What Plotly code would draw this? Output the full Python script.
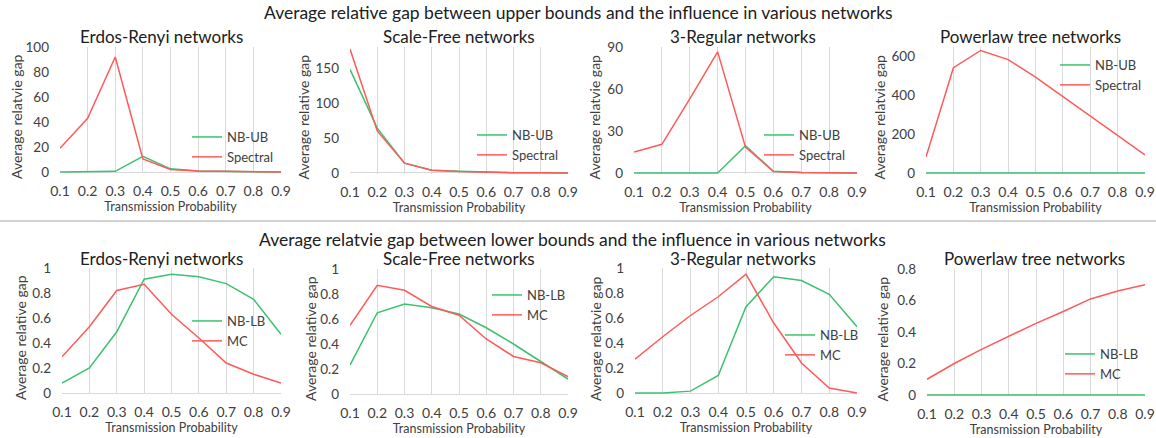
import plotly.graph_objects as go

W, H = 1156, 438
FONT = "Lato"
GREEN = "#3cc26f"
RED = "#ff5a5a"
GRID = "#d9d9d9"

x_vals = [0.1, 0.2, 0.3, 0.4, 0.5, 0.6, 0.7, 0.8, 0.9]
x_ticks = ["0.1", "0.2", "0.3", "0.4", "0.5", "0.6", "0.7", "0.8", "0.9"]

# Upper bounds (top row)
er_nbub = [0, 0, 0.5, 12.5, 2.5, 0.8, 0.5, 0.4, 0]
er_spectral = [19, 43, 92, 10.5, 2, 0.8, 0.5, 0.4, 0]
sf_nbub = [148, 64, 14, 4, 2.5, 1, 0.4, 0.2, 0]
sf_spectral = [177, 60, 14, 4, 2, 1, 0.3, 0.2, 0]
rg_nbub = [0, 0, 0, 0, 19.5, 1.2, 0.3, 0.1, 0]
rg_spectral = [15, 20.5, 53, 86.5, 18.5, 1, 0.3, 0, 0]
pl_nbub = [0, 0, 0, 0, 0, 0, 0, 0, 0]
pl_spectral = [82, 543, 632, 585, 495, 395, 293, 195, 93]

# Lower bounds (bottom row)
er_nblb = [0.08, 0.2, 0.49, 0.91, 0.95, 0.93, 0.875, 0.75, 0.47]
er_mc = [0.29, 0.53, 0.82, 0.87, 0.63, 0.44, 0.24, 0.15, 0.08]
sf_nblb = [0.23, 0.65, 0.72, 0.69, 0.64, 0.53, 0.4, 0.26, 0.12]
sf_mc = [0.55, 0.87, 0.83, 0.7, 0.63, 0.44, 0.3, 0.25, 0.14]
rg_nblb = [0, 0, 0.015, 0.14, 0.69, 0.93, 0.9, 0.79, 0.53]
rg_mc = [0.27, 0.45, 0.62, 0.77, 0.95, 0.56, 0.24, 0.04, 0]
pl_nblb = [0, 0, 0, 0, 0, 0, 0, 0, 0]
pl_mc = [0.1, 0.2, 0.29, 0.375, 0.455, 0.53, 0.61, 0.66, 0.7]

main_titles = [
    "Average relative gap between upper bounds and the influence in various networks",
    "Average relatvie gap between lower bounds and the influence in various networks",
]
panel_titles = ["Erdos-Renyi networks", "Scale-Free networks", "3-Regular networks", "Powerlaw tree networks"] * 2
y_titles = ["Average relatvie gap", "Average relative gap", "Average relatvie gap", "Average relatvie gap",
            "Average relative gap", "Average relative gap", "Average relatvie gap", "Average relative gap"]
x_title = "Transmission Probability"

panels = [
    dict(series=[("NB-UB", er_nbub, GREEN), ("Spectral", er_spectral, RED)], ymax=100, dtick=20,
         px=(60, 281), py=(47, 173), tx=161, ty=36, yt=17, leg=(227, 135)),
    dict(series=[("NB-UB", sf_nbub, GREEN), ("Spectral", sf_spectral, RED)], ymax=180, dtick=50,
         px=(350, 568), py=(47, 174), tx=459, ty=36, yt=303, leg=(512, 133)),
    dict(series=[("NB-UB", rg_nbub, GREEN), ("Spectral", rg_spectral, RED)], ymax=90, dtick=30,
         px=(634, 857), py=(47, 174), tx=743, ty=36, yt=594, leg=(799, 133)),
    dict(series=[("NB-UB", pl_nbub, GREEN), ("Spectral", pl_spectral, RED)], ymax=650, dtick=200,
         px=(926, 1145), py=(47, 174), tx=1030, ty=36, yt=879, leg=(1095, 63)),
    dict(series=[("NB-LB", er_nblb, GREEN), ("MC", er_mc, RED)], ymax=1, dtick=0.2,
         px=(62, 281), py=(268, 394), tx=161, ty=258, yt=20, leg=(227, 319)),
    dict(series=[("NB-LB", sf_nblb, GREEN), ("MC", sf_mc, RED)], ymax=1, dtick=0.2,
         px=(350, 568), py=(269, 395), tx=459, ty=258, yt=310, leg=(527, 293)),
    dict(series=[("NB-LB", rg_nblb, GREEN), ("MC", rg_mc, RED)], ymax=1, dtick=0.2,
         px=(635, 857), py=(268, 394), tx=743, ty=258, yt=595, leg=(820, 333)),
    dict(series=[("NB-LB", pl_nblb, GREEN), ("MC", pl_mc, RED)], ymax=0.8, dtick=0.2,
         px=(927, 1145), py=(269, 396), tx=1034, ty=258, yt=882, leg=(1100, 352)),
]

fig = go.Figure()
annotations = []
layout_extra = {}

for i, p in enumerate(panels):
    k = i + 1
    xa = "x" if k == 1 else f"x{k}"
    ya = "y" if k == 1 else f"y{k}"
    lg = "legend" if k == 1 else f"legend{k}"
    for name, vals, col in p["series"]:
        fig.add_trace(go.Scatter(x=x_vals, y=vals, name=name, mode="lines",
                                 line=dict(color=col, width=1.5), xaxis=xa, yaxis=ya,
                                 legend=lg, hoverinfo="x+y+name"))
    x0, x1 = p["px"]
    y0, y1 = p["py"]
    layout_extra["xaxis" if k == 1 else f"xaxis{k}"] = dict(
        domain=[x0 / W, x1 / W], anchor=ya, range=[0.1, 0.9], automargin=False,
        tickvals=x_vals, ticktext=x_ticks, showgrid=True, gridcolor=GRID, gridwidth=1,
        showline=False, zeroline=False, ticks="", ticklabelstandoff=8,
        tickfont=dict(family=FONT, size=14, color="#404040"),
        title=dict(text=x_title, font=dict(family=FONT, size=12.5, color="#404040"), standoff=4),
        fixedrange=True,
    )
    ymax = p["ymax"]
    layout_extra["yaxis" if k == 1 else f"yaxis{k}"] = dict(
        domain=[1 - y1 / H, 1 - y0 / H], anchor=xa, range=[-0.008 * ymax, ymax], automargin=False,
        tick0=0, dtick=p["dtick"], showgrid=False, showline=False,
        zeroline=True, zerolinecolor=GRID, zerolinewidth=1, ticks="", ticklabelstandoff=10,
        tickfont=dict(family=FONT, size=13.5, color="#404040"), fixedrange=True,
    )
    lx, ly = p["leg"]
    layout_extra[lg] = dict(x=(lx - 40) / W, y=1 - (ly - 13) / H, xanchor="left", yanchor="top",
                            bgcolor="rgba(0,0,0,0)", borderwidth=0, itemwidth=30,
                            font=dict(family=FONT, size=13, color="#404040"),
                            tracegroupgap=0, traceorder="normal")
    annotations.append(dict(text=panel_titles[i], x=p["tx"] / W, y=1 - p["ty"] / H, xref="paper", yref="paper",
                            showarrow=False, xanchor="center", yanchor="middle",
                            font=dict(family=FONT, size=17, color="#202020")))
    annotations.append(dict(text=y_titles[i], x=p["yt"] / W, y=1 - ((y0 + y1) / 2 + 7) / H, xref="paper", yref="paper",
                            showarrow=False, xanchor="center", yanchor="middle", textangle=-90,
                            font=dict(family=FONT, size=14, color="#404040")))

annotations.append(dict(text=main_titles[0], x=578 / W, y=1 - 12 / H, xref="paper", yref="paper",
                        showarrow=False, xanchor="center", yanchor="middle",
                        font=dict(family=FONT, size=17.5, color="#202020")))
annotations.append(dict(text=main_titles[1], x=572 / W, y=1 - 239 / H, xref="paper", yref="paper",
                        showarrow=False, xanchor="center", yanchor="middle",
                        font=dict(family=FONT, size=17.5, color="#202020")))

fig.update_layout(
    width=W, height=H, margin=dict(l=0, r=0, t=0, b=0, autoexpand=False),
    paper_bgcolor="white", plot_bgcolor="white",
    showlegend=True, annotations=annotations,
    shapes=[dict(type="line", xref="paper", yref="paper", x0=0, x1=1, y0=1 - 221 / H, y1=1 - 221 / H,
                 line=dict(color="#a6a6a6", width=1))],
    **layout_extra,
)

fig.write_html("out.html", config={"displayModeBar": False},
               post_script="document.body.style.margin='0px';document.body.style.overflow='hidden';")
